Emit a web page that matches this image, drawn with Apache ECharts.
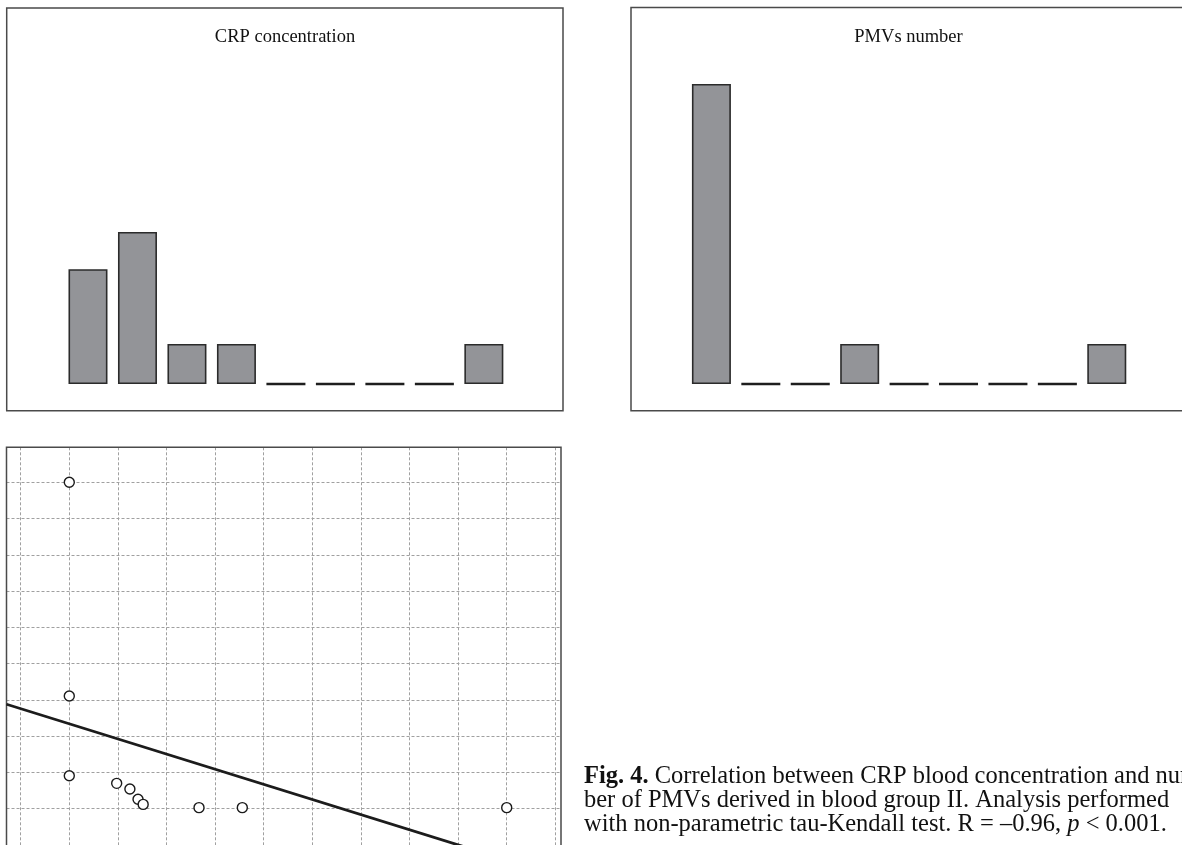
<!DOCTYPE html>
<html>
<head>
<meta charset="utf-8">
<script src="https://cdn.jsdelivr.net/npm/echarts@6/dist/echarts.min.js"></script>
<style>
html,body{margin:0;padding:0;background:#fff;}
#c{width:1182px;height:845px;}
</style>
</head>
<body>
<div id="c"></div>
<script>
// ---- data ----
const binCategories = ['1', '2', '3', '4', '5', '6', '7', '8', '9'];
const crpValues = [2.87, 3.8, 1, 1, 0, 0, 0, 0, 1];
const pmvValues = [7.5, 0, 0, 1, 0, 0, 0, 0, 1];
const scatterX = [1.0, 1.0, 1.0, 1.975, 2.247, 2.414, 2.52, 3.669, 4.56, 10.0];
const scatterY = [10.0, 4.11, 1.91, 1.70, 1.544, 1.26, 1.12, 1.03, 1.03, 1.03];
const regressionX = [-0.292, 11.117];
const regressionY = [3.88, -0.88];
const xGridTicks = [0, 1, 2, 3, 4, 5, 6, 7, 8, 9, 10, 11];
const yGridTicks = [0, 1, 2, 3, 4, 5, 6, 7, 8, 9, 10];
const titles = ['CRP concentration', 'PMVs number'];
const captionLines = [
  '{b|Fig. 4.} Correlation between CRP blood concentration and num-',
  'ber of PMVs derived in blood group II. Analysis performed',
  'with non-parametric tau-Kendall test. R = \u20130.96, {i|p} < 0.001.'
];

// ---- chart ----
const chart = echarts.init(document.getElementById('c'), null, {renderer: 'canvas'});
const serif = '"Liberation Serif", "DejaVu Serif", serif';
const barFill = '#939498';
const barStroke = '#2b2b2b';
const frameColor = '#4a4a4a';
const capSize = 24.5;

const splitStyle = {show: true, lineStyle: {color: '#a0a0a0', width: 1, type: [3, 2]}};

function barData(values) {
  return values.map(v => (v === 0
    ? {value: v, itemStyle: {borderWidth: 2.6, borderColor: '#1e1e1e'}}
    : {value: v}));
}

const option = {
  backgroundColor: '#ffffff',
  animation: false,
  grid: [
    {left: 63.25, top: 84, width: 445.35, height: 300, containLabel: false},
    {left: 686.7, top: 84, width: 444.8, height: 300, containLabel: false},
    {left: 6.5, top: 447.3, width: 554.5, height: 397.7, containLabel: false}
  ],
  xAxis: [
    {type: 'category', gridIndex: 0, data: binCategories, show: false},
    {type: 'category', gridIndex: 1, data: binCategories, show: false},
    {type: 'value', gridIndex: 2, min: -0.292, max: 11.117,
     axisLine: {show: false}, axisLabel: {show: false},
     axisTick: {show: false, customValues: xGridTicks},
     splitLine: splitStyle}
  ],
  yAxis: [
    {type: 'value', gridIndex: 0, min: 0, max: 7.5, show: false},
    {type: 'value', gridIndex: 1, min: 0, max: 7.5, show: false},
    {type: 'value', gridIndex: 2, min: 0, max: 10.965,
     axisLine: {show: false}, axisLabel: {show: false},
     axisTick: {show: false, customValues: yGridTicks},
     splitLine: splitStyle}
  ],
  series: [
    {type: 'bar', xAxisIndex: 0, yAxisIndex: 0, data: barData(crpValues), barWidth: 39,
     itemStyle: {color: barFill, borderColor: barStroke, borderWidth: 1.6}},
    {type: 'bar', xAxisIndex: 1, yAxisIndex: 1, data: barData(pmvValues), barWidth: 39,
     itemStyle: {color: barFill, borderColor: barStroke, borderWidth: 1.6}},
    {type: 'line', xAxisIndex: 2, yAxisIndex: 2, symbol: 'none', z: 3, clip: true,
     data: regressionX.map((x, i) => [x, regressionY[i]]),
     lineStyle: {color: '#1c1c1c', width: 2.8}},
    {type: 'scatter', xAxisIndex: 2, yAxisIndex: 2, z: 4,
     data: scatterX.map((x, i) => [x, scatterY[i]]),
     symbol: 'circle', symbolSize: 10,
     itemStyle: {color: '#ffffff', borderColor: '#1a1a1a', borderWidth: 1.4, opacity: 1}}
  ],
  graphic: [
    {type: 'rect', shape: {x: 6.7, y: 8, width: 556.3, height: 402.7},
     style: {fill: 'none', stroke: frameColor, lineWidth: 1.5}, z: 1},
    {type: 'rect', shape: {x: 631, y: 7.5, width: 600, height: 403.2},
     style: {fill: 'none', stroke: frameColor, lineWidth: 1.5}, z: 1},
    {type: 'rect', shape: {x: 6.5, y: 447.3, width: 554.5, height: 500},
     style: {fill: 'none', stroke: frameColor, lineWidth: 1.5}, z: 1},
    {type: 'text', x: 285, y: 37.5, style: {text: titles[0], fontSize: 18.5, fontFamily: serif,
      fill: '#111', align: 'center', verticalAlign: 'middle'}},
    {type: 'text', x: 908.5, y: 37.5, style: {text: titles[1], fontSize: 18.5, fontFamily: serif,
      fill: '#111', align: 'center', verticalAlign: 'middle'}}
  ].concat(captionLines.map((t, i) => ({
    type: 'text', x: 584, y: 777 + i * 24,
    style: {text: t, fontSize: capSize, fontFamily: serif, fill: '#111', align: 'left', verticalAlign: 'middle',
      rich: {b: {fontWeight: 'bold', fontSize: capSize, fontFamily: serif, fill: '#111'},
             i: {fontStyle: 'italic', fontSize: capSize, fontFamily: serif, fill: '#111'}}}
  })))
};
chart.setOption(option);
</script>
</body>
</html>
